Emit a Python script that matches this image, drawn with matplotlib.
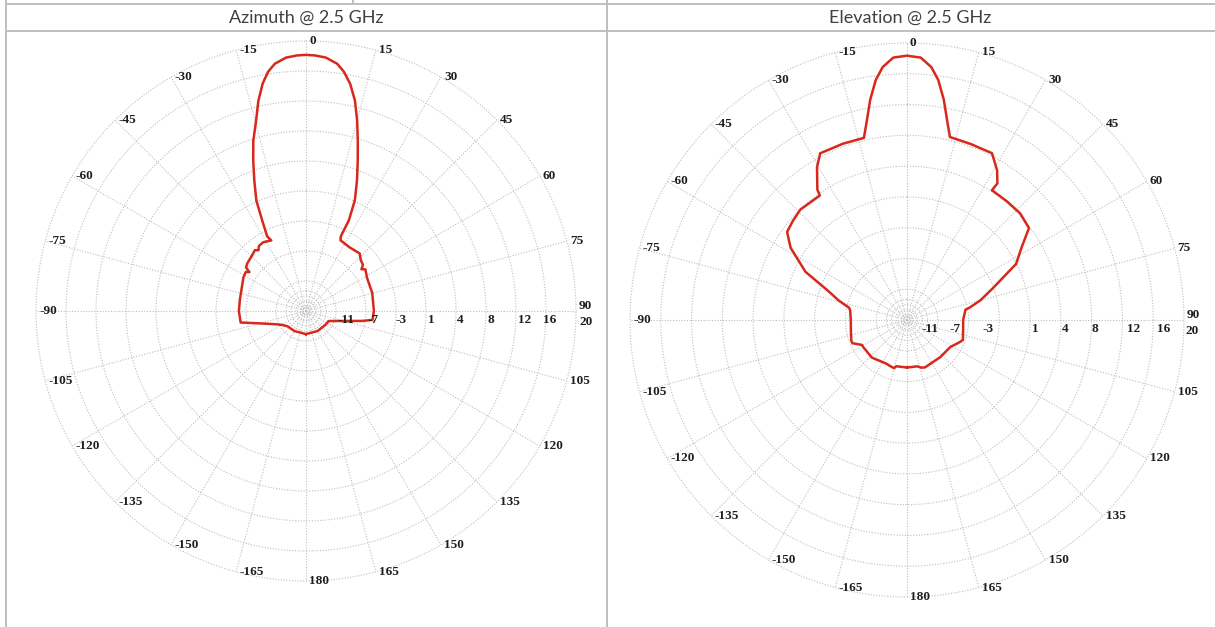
import numpy as np
import matplotlib
matplotlib.use("Agg")
import matplotlib.pyplot as plt

# azimuth pattern @ 2.5 GHz (deg from boresight, dB), traced round the curve
AZ_DEG = [-180, -150, -130, -120, -115, -110, -105, -100, -98, -90, -80, -72,
          -62, -57, -55.5, -54, -51, -45, -40, -38, -36, -32, -26.2, -27.5,
          -25.8, -24.2, -21.6, -19.3, -17.2, -14.7, -12.8, -10.8, -9, -7.2,
          -4.5, -2, 0, 2, 4.5, 7.2, 9, 11, 13.1, 15, 16.9, 19, 21.3, 23.8,
          25.3, 25.0, 26, 34, 43, 47, 51, 53, 55, 61.6, 74.7, 90, 97.6, 100,
          105, 110, 114, 125, 150, 180]
AZ_DB = [-12.0, -12.0, -11.9, -11.4, -10.9, -10.1, -8.8, -6.4, -6.4, -6.3, -6.3,
         -6.2, -5.8, -5.7, -6.1, -5.4, -5.2, -5.0, -4.7, -5.0, -4.6, -4.5, -4.8,
         -4.1, -1.95, 0.7, 3.2, 5.7, 8.1, 10.5, 12.9, 15.0, 16.4, 17.3,
         17.95, 18.15, 18.2, 18.15, 17.95, 17.3, 16.4, 15.0, 13.0, 10.6, 8.1,
         5.6, 3.2, 0.7, -2.0, -4.3, -4.8, -5.0, -4.8, -5.3, -5.5, -6.0, -5.6,
         -6.0, -6.1, -6.2, -6.3, -7.6, -10.0, -11.2, -11.8, -11.9, -12.0, -12.0]

# elevation pattern @ 2.5 GHz
EL_DEG = [-180, -167, -165, -160, -155, -137, -122, -119, -113, -110, -100,
          -90, -80, -78, -74, -70, -64.6, -58.2, -53.7, -49, -44, -35, -34.5,
          -30.5, -27.5, -20, -13.3, -11.3, -9.5, -7.4, -5.5, -3, 0, 3, 5.5,
          7.4, 9.5, 11.3, 13.2, 20, 27, 31, 33.5, 33.2, 40, 46.6, 53, 57.5,
          62.8, 69.6, 75, 79, 80, 90, 100, 109.7, 113, 122, 138, 159, 163,
          167.5, 180]
EL_DB = [-9.0, -9.0, -8.7, -8.8, -8.9, -8.5, -8.5, -8.5, -7.5, -7.5, -7.8,
         -7.9, -7.7, -7.5, -6.0, -4.5, -0.8, 2.3, 3.8, 4.1, 4.4, 4.2, 5.0,
         7.4, 8.75, 8.7, 8.65, 10.8, 13.2, 15.6, 17.1, 18.2, 18.4, 18.2, 17.1,
         15.6, 13.2, 10.8, 8.75, 8.65, 8.65, 7.1, 5.7, 4.6, 4.6, 4.65, 4.3,
         2.2, 0.5, -3.4, -5.4, -7.0, -7.5, -7.9, -7.8, -7.5, -7.8, -8.55,
         -8.7, -8.6, -8.7, -9.0, -9.0]

ANGLE_TICKS = list(range(-165, 181, 15))
RING_LABELS = ["-11", "-7", "-3", "1", "4", "8", "12", "16", "20"]
R_MIN, R_MAX = -15, 20
RINGS = np.linspace(R_MIN, R_MAX, 10)[1:]
INNER_RINGS = [-14.35, -13.7, -13.05, -12.4]

W, H = 1215, 627
GRID = "#bdbdbd"
CURVE = "#d8281c"
LINE = "#bfbfbf"
LABEL_FONT = dict(family="Liberation Serif", weight="bold", fontsize=9.5,
                  color="#1e1e1e")


def draw_pattern(ax, deg, db, ring_dx):
    ax.set_theta_zero_location("N")
    ax.set_theta_direction(-1)
    ax.set_ylim(R_MIN, R_MAX)
    ax.axis("off")
    t = np.linspace(0, 2 * np.pi, 721)
    for lev in list(RINGS) + INNER_RINGS:
        ax.plot(t, np.full_like(t, lev), color=GRID, lw=0.8,
                ls=(0, (1, 1.5)), clip_on=False, zorder=1)
    for a in ANGLE_TICKS:
        ax.plot([np.deg2rad(a)] * 2, [R_MIN, R_MAX], color=GRID, lw=0.8,
                ls=(0, (1, 1.5)), clip_on=False, zorder=1)
    ax.plot(np.deg2rad(deg), db, color=CURVE, lw=1.8, zorder=3, clip_on=False)
    for a in ANGLE_TICKS:
        dy = 5 if a == 90 else 0
        ax.annotate(str(a), xy=(np.deg2rad(a), R_MAX), xytext=(3, dy),
                    textcoords="offset pixels", ha="left", va="center",
                    annotation_clip=False, zorder=4, **LABEL_FONT)
    for lev, lbl, dx in zip(RINGS, RING_LABELS, ring_dx):
        dy = -11 if lbl == "20" else -9
        ax.annotate(lbl, xy=(np.pi / 2, lev), xytext=(dx, dy),
                    textcoords="offset pixels", ha="left", va="center",
                    annotation_clip=False, zorder=4, **LABEL_FONT)


fig = plt.figure(figsize=(W / 100, H / 100), dpi=100)

# table frame and headers
frame = fig.add_axes([0, 0, 1, 1])
frame.set_xlim(0, W)
frame.set_ylim(H, 0)
frame.axis("off")
for x0, x1, y0, y1 in [(6, W, 4, 4), (6, W, 31, 31), (6, 6, 0, H),
                       (353, 353, 0, 4), (607, 607, 0, H)]:
    frame.plot([x0, x1], [y0, y1], color=LINE, lw=1.4, solid_capstyle="butt")
frame.text(306, 18, "Azimuth @ 2.5 GHz", ha="center", va="center",
           family="Lato", fontsize=13, color="#404040")
frame.text(910, 18, "Elevation @ 2.5 GHz", ha="center", va="center",
           family="Lato", fontsize=13, color="#404040")


def polar_axes(cx, cy, r):
    return fig.add_axes([(cx - r) / W, (H - cy - r) / H, 2 * r / W, 2 * r / H],
                        projection="polar")


ax1 = polar_axes(306, 311, 270)
draw_pattern(ax1, AZ_DEG, AZ_DB, [1, 2, 0, 2, 1, 2, 2, -3, 4])
ax2 = polar_axes(907, 320, 277)
draw_pattern(ax2, EL_DEG, EL_DB, [-16, -19, -17, 2, 1, 0, 5, 4, 1])

fig.savefig("out.png", dpi=100)
